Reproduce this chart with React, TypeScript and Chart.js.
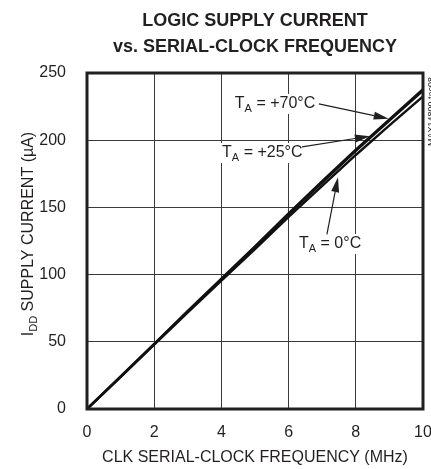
import React, { useEffect, useRef } from 'react';
import { Chart, registerables } from 'chart.js';
Chart.register(...registerables);

const FREQ_MHZ = [0, 1, 2, 3, 4, 5, 6, 7, 8, 9, 10];
const I_70C = [0, 24.2, 48.5, 73, 97, 121, 145.5, 169.5, 193, 215.5, 238];
const I_25C = [0, 24, 48.2, 72.5, 96.5, 120.5, 145, 168.5, 192, 214.5, 236.8];
const I_0C = [0, 23.8, 47.8, 71.8, 95.5, 119, 143, 166, 189, 211, 232.5];
const SERIES_LABELS = ['+70°C', '+25°C', '0°C'];
const X_TICKS = [0, 2, 4, 6, 8, 10];
const Y_TICKS = [0, 50, 100, 150, 200, 250];
const TITLE_LINES = ['LOGIC SUPPLY CURRENT', 'vs. SERIAL-CLOCK FREQUENCY'];
const X_TITLE = 'CLK SERIAL-CLOCK FREQUENCY (MHz)';
const Y_TITLE_MAIN = 'I';
const Y_TITLE_SUB = 'DD';
const Y_TITLE_REST = ' SUPPLY CURRENT (µA)';
const FIG_ID = 'MAX14800 toc08';

// label anchors (data coords): text left/baseline, arrow start, arrow tip
const LABEL_TEXT_AT = [[4.4, 224], [4.02, 187.5], [6.31, 119.8]];
const LABEL_ARROW_FROM = [[6.9, 227], [6.4, 195], [7.14, 130]];
const LABEL_ARROW_TO = [[8.98, 216], [8.42, 203], [7.47, 172.5]];

const INK = '#231f20';
const FONT = 'Arial, "Liberation Sans", Helvetica, sans-serif';

function drawLabel(ctx: CanvasRenderingContext2D, x: number, y: number, label: string) {
  ctx.font = `16px ${FONT}`;
  const wT = ctx.measureText('T').width;
  ctx.font = `11px ${FONT}`;
  const wA = ctx.measureText('A').width;
  ctx.font = `16px ${FONT}`;
  const rest = ' = ' + label;
  const wR = ctx.measureText(rest).width;
  const total = wT + wA + wR;
  ctx.fillStyle = '#ffffff';
  ctx.fillRect(x - 2, y - 14, total + 4, 20);
  ctx.fillStyle = INK;
  ctx.textBaseline = 'alphabetic';
  ctx.textAlign = 'left';
  ctx.fillText('T', x, y);
  ctx.font = `11px ${FONT}`;
  ctx.fillText('A', x + wT, y + 4);
  ctx.font = `16px ${FONT}`;
  ctx.fillText(rest, x + wT + wA, y);
}

function drawArrow(ctx: CanvasRenderingContext2D, x0: number, y0: number, x1: number, y1: number) {
  const ang = Math.atan2(y1 - y0, x1 - x0);
  const len = 15, half = 4;
  const bx = x1 - len * Math.cos(ang);
  const by = y1 - len * Math.sin(ang);
  ctx.strokeStyle = INK;
  ctx.lineWidth = 1.2;
  ctx.beginPath();
  ctx.moveTo(x0, y0);
  ctx.lineTo(bx, by);
  ctx.stroke();
  ctx.fillStyle = INK;
  ctx.beginPath();
  ctx.moveTo(x1, y1);
  ctx.lineTo(bx + half * Math.sin(ang), by - half * Math.cos(ang));
  ctx.lineTo(bx - half * Math.sin(ang), by + half * Math.cos(ang));
  ctx.closePath();
  ctx.fill();
}

const decorPlugin = {
  id: 'decor',
  beforeDatasetsDraw(chart: any) {
    const { ctx, scales } = chart;
    ctx.save();
    SERIES_LABELS.forEach((lab, i) => {
      const [dx, dy] = LABEL_TEXT_AT[i];
      drawLabel(ctx, scales.x.getPixelForValue(dx), scales.y.getPixelForValue(dy), lab);
    });
    ctx.restore();
  },
  afterDatasetsDraw(chart: any) {
    const { ctx, scales, chartArea } = chart;
    ctx.save();
    SERIES_LABELS.forEach((_, i) => {
      const [ax, ay] = LABEL_ARROW_FROM[i];
      const [bx, by] = LABEL_ARROW_TO[i];
      drawArrow(ctx, scales.x.getPixelForValue(ax), scales.y.getPixelForValue(ay),
        scales.x.getPixelForValue(bx), scales.y.getPixelForValue(by));
    });
    // frame
    ctx.strokeStyle = INK;
    ctx.lineWidth = 3;
    ctx.strokeRect(chartArea.left, chartArea.top, chartArea.right - chartArea.left, chartArea.bottom - chartArea.top);
    ctx.restore();
  },
  afterDraw(chart: any) {
    const { ctx, chartArea } = chart;
    const cx = (chartArea.left + chartArea.right) / 2;
    ctx.save();
    ctx.fillStyle = INK;
    ctx.textAlign = 'center';
    ctx.textBaseline = 'middle';
    ctx.font = `bold 18px ${FONT}`;
    ctx.fillText(TITLE_LINES[0], cx, 21);
    ctx.fillText(TITLE_LINES[1], cx, 47);
    ctx.font = `16px ${FONT}`;
    ctx.fillText(X_TITLE, cx, 458);
    // y title
    ctx.translate(27, 234);
    ctx.rotate(-Math.PI / 2);
    ctx.font = `16px ${FONT}`;
    const w1 = ctx.measureText(Y_TITLE_MAIN).width;
    const w3 = ctx.measureText(Y_TITLE_REST).width;
    ctx.font = `11px ${FONT}`;
    const w2 = ctx.measureText(Y_TITLE_SUB).width;
    let x = -(w1 + w2 + w3) / 2;
    ctx.textAlign = 'left';
    ctx.textBaseline = 'alphabetic';
    ctx.font = `16px ${FONT}`;
    ctx.fillText(Y_TITLE_MAIN, x, 6);
    x += w1;
    ctx.font = `11px ${FONT}`;
    ctx.fillText(Y_TITLE_SUB, x, 10);
    x += w2;
    ctx.font = `16px ${FONT}`;
    ctx.fillText(Y_TITLE_REST, x, 6);
    ctx.restore();
    // figure id
    ctx.save();
    ctx.fillStyle = INK;
    ctx.font = `9px ${FONT}`;
    ctx.translate(427, 77);
    ctx.rotate(-Math.PI / 2);
    ctx.textAlign = 'right';
    ctx.textBaseline = 'top';
    ctx.fillText(FIG_ID, 0, 0);
    ctx.restore();
  },
};

export default function App() {
  const ref = useRef<HTMLCanvasElement | null>(null);
  useEffect(() => {
    if (!ref.current) return;
    const mk = (ys: number[], label: string) => ({
      label,
      data: FREQ_MHZ.map((f, i) => ({ x: f, y: ys[i] })),
      borderColor: '#111111',
      borderWidth: 2.4,
      pointRadius: 0,
      tension: 0,
      fill: false,
    });
    const chart = new Chart(ref.current, {
      type: 'line',
      data: {
        datasets: [mk(I_70C, SERIES_LABELS[0]), mk(I_25C, SERIES_LABELS[1]), mk(I_0C, SERIES_LABELS[2])],
      },
      options: {
        animation: false,
        responsive: false,
        devicePixelRatio: 1,
        layout: { padding: { top: 73, right: 8, bottom: 0, left: 0 } },
        plugins: { legend: { display: false }, title: { display: false }, tooltip: { enabled: false } },
        scales: {
          x: {
            type: 'linear',
            min: X_TICKS[0],
            max: X_TICKS[X_TICKS.length - 1],
            afterBuildTicks: (s: any) => { s.ticks = X_TICKS.map((v) => ({ value: v })); },
            afterFit: (s: any) => { s.height = 60; s.paddingLeft = 0; s.paddingRight = 0; },
            grid: { color: '#3a3a3a', lineWidth: 1, drawTicks: false },
            border: { display: false },
            ticks: { color: INK, font: { family: FONT, size: 16 }, padding: 14, maxRotation: 0 },
          },
          y: {
            type: 'linear',
            min: Y_TICKS[0],
            max: Y_TICKS[Y_TICKS.length - 1],
            afterBuildTicks: (s: any) => { s.ticks = Y_TICKS.map((v) => ({ value: v })); },
            afterFit: (s: any) => { s.width = 87; s.paddingTop = 0; s.paddingBottom = 0; },
            grid: { color: '#3a3a3a', lineWidth: 1, drawTicks: false },
            border: { display: false },
            ticks: { color: INK, font: { family: FONT, size: 16 }, padding: 21 },
          },
        },
      },
      plugins: [decorPlugin],
    });
    return () => chart.destroy();
  }, []);
  return (
    <div style={{ position: 'fixed', left: 0, top: 0, width: 431, height: 469, background: '#fff' }}>
      <canvas ref={ref} width={431} height={469} style={{ display: 'block' }} />
    </div>
  );
}
